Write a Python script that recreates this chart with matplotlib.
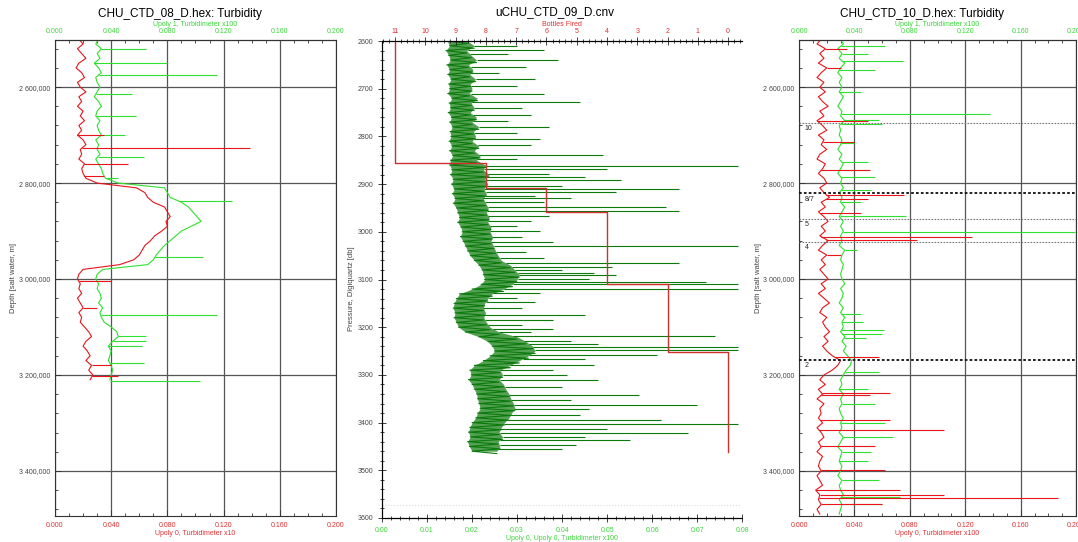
import numpy as np
import matplotlib
matplotlib.use('Agg')
import matplotlib.pyplot as plt
from matplotlib.ticker import MultipleLocator, FixedLocator

plt.rcParams['font.family'] = ['Liberation Sans', 'DejaVu Sans']

RED = '#e8141a'
GREEN = '#2fe02f'
DKGREEN = '#0b7a0b'
GRID = '#555555'
TXT_RED = '#e03030'
TXT_GREEN = '#3ad63a'

# ---------------- CHU_CTD_08 (depth profile, 10 m steps) ----------------
depth_08 = np.arange(2500, 3220, 10)
red_08 = [0.017, 0.020, 0.016, 0.019, 0.022, 0.017, 0.015, 0.019, 0.021, 0.016,
          0.018, 0.022, 0.017, 0.019, 0.016, 0.020, 0.018, 0.021, 0.017, 0.019,
          0.016, 0.020, 0.022, 0.018, 0.019, 0.017, 0.021, 0.019, 0.020, 0.022,
          0.030, 0.058, 0.064, 0.066, 0.070, 0.078, 0.080, 0.082, 0.079, 0.080,
          0.076, 0.071, 0.068, 0.064, 0.062, 0.060, 0.056, 0.046, 0.020, 0.017,
          0.016, 0.018, 0.017, 0.019, 0.016, 0.018, 0.020, 0.017, 0.019, 0.018, 0.021,
          0.024, 0.026, 0.022, 0.020, 0.023, 0.025, 0.022, 0.026, 0.024, 0.027, 0.025]
green_08 = [0.031, 0.029, 0.033, 0.030, 0.032, 0.028, 0.031, 0.033, 0.029, 0.030,
            0.032, 0.030, 0.028, 0.031, 0.033, 0.030, 0.029, 0.032, 0.030, 0.031,
            0.033, 0.029, 0.031, 0.030, 0.032, 0.029, 0.031, 0.033, 0.034, 0.036,
            0.045, 0.078, 0.080, 0.082, 0.090, 0.095, 0.098, 0.101, 0.104, 0.097,
            0.090, 0.086, 0.082, 0.078, 0.075, 0.072, 0.070, 0.066, 0.034, 0.030,
            0.029, 0.031, 0.030, 0.032, 0.033, 0.031, 0.034, 0.032, 0.033, 0.035, 0.040,
            0.044, 0.045, 0.041, 0.038, 0.040, 0.039, 0.038, 0.040, 0.041, 0.040, 0.039]
red_spk_08_d = [2700, 2727, 2760, 2785, 3005, 3060, 3180, 3203]
red_spk_08_v = [0.035, 0.139, 0.052, 0.035, 0.040, 0.030, 0.040, 0.045]
green_spk_08_d = [2520, 2550, 2575, 2615, 2660, 2700, 2745, 2790, 2837, 2955,
                  3076, 3118, 3130, 3140, 3175, 3213]
green_spk_08_v = [0.065, 0.080, 0.115, 0.055, 0.058, 0.050, 0.063, 0.045, 0.126, 0.105,
                  0.115, 0.065, 0.065, 0.062, 0.063, 0.103]

# ---------------- uCHU_CTD_09 (pressure profile, 10 db steps, envelope) ----------------
pressure_09 = np.arange(2600, 3470, 10)
lo_09 = [0.0145, 0.0150, 0.0142, 0.0148, 0.0152, 0.0144, 0.0150, 0.0146, 0.0153, 0.0148,
         0.0150, 0.0146, 0.0155, 0.0149, 0.0152, 0.0147, 0.0154, 0.0150, 0.0156, 0.0151,
         0.0153, 0.0149, 0.0155, 0.0150, 0.0157, 0.0152,
         0.0150, 0.0155, 0.0152, 0.0158, 0.0154, 0.0160, 0.0156, 0.0162, 0.0158, 0.0165, 0.0168,
         0.0172, 0.0168, 0.0175, 0.0178, 0.0174, 0.0180, 0.0185, 0.0190, 0.0196, 0.0205,
         0.0215, 0.0222, 0.0225, 0.0228, 0.0220, 0.0200,
         0.0172, 0.0165, 0.0160, 0.0158, 0.0162, 0.0160, 0.0165, 0.0170, 0.0185,
         0.0215, 0.0235, 0.0245, 0.0250, 0.0240, 0.0225, 0.0205,
         0.0195, 0.0198, 0.0192, 0.0200, 0.0205, 0.0210, 0.0212,
         0.0215, 0.0218, 0.0212, 0.0208, 0.0200,
         0.0195, 0.0192, 0.0196, 0.0190, 0.0194, 0.0200]
hi_09 = [0.0190, 0.0205, 0.0188, 0.0198, 0.0210, 0.0192, 0.0202, 0.0195, 0.0208, 0.0196,
         0.0200, 0.0194, 0.0212, 0.0198, 0.0205, 0.0196, 0.0210, 0.0200, 0.0215, 0.0203,
         0.0208, 0.0200, 0.0215, 0.0205, 0.0218, 0.0210,
         0.0230, 0.0225, 0.0238, 0.0228, 0.0235, 0.0226, 0.0232, 0.0225, 0.0230, 0.0236, 0.0232,
         0.0238, 0.0235, 0.0242, 0.0240, 0.0245, 0.0242, 0.0248, 0.0252, 0.0258, 0.0265,
         0.0285, 0.0295, 0.0305, 0.0300, 0.0290, 0.0270,
         0.0245, 0.0235, 0.0228, 0.0225, 0.0230, 0.0226, 0.0232, 0.0240, 0.0260,
         0.0300, 0.0320, 0.0335, 0.0340, 0.0325, 0.0305, 0.0285,
         0.0262, 0.0268, 0.0260, 0.0270, 0.0275, 0.0282, 0.0286,
         0.0292, 0.0295, 0.0288, 0.0282, 0.0272,
         0.0265, 0.0260, 0.0268, 0.0258, 0.0262, 0.0255]
spk_09_p = [2610, 2618, 2628, 2640, 2655, 2668, 2680, 2695, 2712, 2728, 2740, 2755, 2768, 2780, 2792,
            2805, 2819, 2838, 2848, 2861, 2868, 2878, 2885, 2892, 2903, 2911, 2917, 2924, 2930, 2938,
            2948, 2957, 2967, 2977, 2988, 2998, 3010, 3022, 3030, 3042, 3055, 3065, 3074, 3081, 3086,
            3091, 3098, 3106, 3110, 3119, 3129, 3138, 3147, 3160, 3175, 3185, 3195, 3203, 3210, 3218,
            3228, 3235, 3241, 3248, 3259, 3266, 3280, 3290, 3300, 3311, 3325, 3342, 3352, 3363, 3372,
            3384, 3394, 3403, 3414, 3422, 3430, 3437, 3448, 3455]
spk_09_v = [0.030, 0.036, 0.028, 0.039, 0.032, 0.026, 0.034, 0.030, 0.036, 0.044, 0.031, 0.033, 0.028, 0.037, 0.030,
            0.035, 0.033, 0.049, 0.030, 0.079, 0.050, 0.037, 0.045, 0.053, 0.040, 0.066, 0.052, 0.034, 0.042, 0.036,
            0.063, 0.066, 0.037, 0.033, 0.030, 0.035, 0.031, 0.038, 0.079, 0.032, 0.036, 0.066, 0.051, 0.040, 0.047,
            0.052, 0.046, 0.072, 0.079, 0.079, 0.035, 0.030, 0.034, 0.031, 0.045, 0.038, 0.031, 0.038, 0.033, 0.074,
            0.042, 0.048, 0.079, 0.079, 0.061, 0.045, 0.047, 0.038, 0.041, 0.048, 0.040, 0.057, 0.042, 0.070, 0.046,
            0.044, 0.062, 0.079, 0.050, 0.068, 0.045, 0.055, 0.043, 0.040]
# bottles fired step line
bottle_p = [2590, 2856, 2908, 2958, 3109, 3252, 3462]
bottle_n = [11, 8, 6, 4, 2, 0]

# ---------------- CHU_CTD_10 (depth profile, 10 m steps) ----------------
depth_10 = np.arange(2500, 3500, 10)
red_10 = [0.016, 0.013, 0.019, 0.015, 0.018, 0.014, 0.020, 0.016, 0.013, 0.018,
          0.015, 0.019, 0.014, 0.017, 0.021, 0.015, 0.018, 0.013, 0.017, 0.020,
          0.014, 0.018, 0.016, 0.020, 0.015, 0.013, 0.019, 0.017, 0.014, 0.018,
          0.020, 0.015, 0.018, 0.022, 0.016, 0.019, 0.014, 0.018, 0.021, 0.016,
          0.019, 0.015, 0.021, 0.017, 0.014, 0.020, 0.016, 0.019, 0.015, 0.018,
          0.021, 0.016, 0.019, 0.014, 0.018, 0.022, 0.017, 0.015, 0.020, 0.017,
          0.019, 0.022, 0.018, 0.021, 0.017, 0.020, 0.024, 0.030, 0.028, 0.024,
          0.018, 0.015, 0.019, 0.014, 0.017, 0.013, 0.018, 0.015, 0.016, 0.014,
          0.017, 0.013, 0.016, 0.018, 0.014, 0.016, 0.013, 0.017, 0.015, 0.014,
          0.016, 0.013, 0.015, 0.017, 0.012, 0.015, 0.014, 0.016, 0.013, 0.015]
green_10 = [0.030, 0.032, 0.028, 0.031, 0.029, 0.033, 0.030, 0.028, 0.031, 0.029,
            0.031, 0.029, 0.032, 0.030, 0.028, 0.031, 0.030, 0.033, 0.029, 0.030,
            0.029, 0.031, 0.030, 0.028, 0.031, 0.029, 0.032, 0.030, 0.028, 0.031,
            0.030, 0.032, 0.029, 0.031, 0.030, 0.033, 0.031, 0.029, 0.032, 0.030,
            0.032, 0.030, 0.031, 0.029, 0.033, 0.031, 0.030, 0.032, 0.031, 0.030,
            0.031, 0.033, 0.030, 0.032, 0.031, 0.029, 0.032, 0.030, 0.033, 0.031,
            0.032, 0.030, 0.033, 0.031, 0.034, 0.032, 0.035, 0.038, 0.037, 0.034,
            0.032, 0.030, 0.031, 0.029, 0.032, 0.030, 0.031, 0.029, 0.030, 0.032,
            0.030, 0.031, 0.029, 0.032, 0.030, 0.028, 0.031, 0.030, 0.029, 0.031,
            0.030, 0.028, 0.031, 0.029, 0.030, 0.032, 0.029, 0.031, 0.030, 0.029]
red_spk_10_d = [2520, 2560, 2670, 2714, 2773, 2824, 2834, 2862, 2912, 2918, 2950,
                3163, 3238, 3242, 3294, 3315, 3348, 3398, 3440, 3450, 3456, 3470]
red_spk_10_v = [0.035, 0.030, 0.050, 0.040, 0.051, 0.076, 0.050, 0.045, 0.125, 0.085, 0.030,
                0.058, 0.066, 0.051, 0.066, 0.105, 0.055, 0.062, 0.073, 0.105, 0.187, 0.060]
green_spk_10_d = [2515, 2530, 2545, 2565, 2610, 2655, 2669, 2677, 2717, 2756, 2773, 2787,
                  2815, 2840, 2868, 2901, 2940, 3072, 3090, 3107, 3114, 3124, 3163, 3194,
                  3230, 3260, 3300, 3329, 3360, 3380, 3420, 3440, 3455, 3470]
green_spk_10_v = [0.062, 0.050, 0.075, 0.055, 0.045, 0.138, 0.058, 0.060, 0.040, 0.050, 0.048, 0.055,
                  0.052, 0.045, 0.077, 0.199, 0.042, 0.045, 0.046, 0.061, 0.060, 0.048, 0.045, 0.058,
                  0.050, 0.055, 0.062, 0.068, 0.052, 0.050, 0.058, 0.048, 0.073, 0.060]
bottle_d_10 = [2675, 2821, 2875, 2923, 3169]
bottle_lbl_10 = ['10', '8/7', '5', '4', '2']
bottle_bold_10 = [False, True, False, False, True]

depth_ticks = [2600, 2800, 3000, 3200, 3400]
depth_labels = ['2 600,000', '2 800,000', '3 000,000', '3 200,000', '3 400,000']


def profile_axes(ax, top_label, bottom_label):
    ax.set_xlim(0, 0.2)
    ax.set_ylim(3494, 2502)
    ax.xaxis.set_major_locator(MultipleLocator(0.04))
    ax.xaxis.set_minor_locator(MultipleLocator(0.01))
    ax.xaxis.set_major_formatter('{x:.3f}')
    ax.yaxis.set_major_locator(FixedLocator(depth_ticks))
    ax.yaxis.set_minor_locator(MultipleLocator(40))
    ax.set_yticklabels(depth_labels)
    ax.tick_params(which='both', direction='in', labelsize=5, width=0.6, color='#333333')
    ax.tick_params(which='major', length=4)
    ax.tick_params(which='minor', length=2)
    ax.tick_params(axis='x', labelcolor=TXT_RED, pad=4)
    ax.tick_params(axis='y', labelcolor='#444444')
    ax.grid(which='major', color=GRID, lw=0.9)
    ax.set_xlabel(bottom_label, color=TXT_RED, fontsize=5, labelpad=1)
    ax.set_ylabel('Depth [salt water, m]', fontsize=5.5, color='#444444')
    ax.yaxis.set_label_coords(-0.135, 0.5)
    sec = ax.secondary_xaxis('top')
    sec.xaxis.set_major_locator(MultipleLocator(0.04))
    sec.xaxis.set_minor_locator(MultipleLocator(0.01))
    sec.xaxis.set_major_formatter('{x:.3f}')
    sec.tick_params(which='both', direction='in', labelsize=5, labelcolor=TXT_GREEN,
                    width=0.6, color='#333333', pad=4)
    sec.tick_params(which='major', length=4)
    sec.tick_params(which='minor', length=2)
    sec.set_xlabel(top_label, color=TXT_GREEN, fontsize=5, labelpad=1)
    for s in ax.spines.values():
        s.set_color('#333333')
        s.set_linewidth(0.8)


def draw_trace(ax, depth, base, spk_d, spk_v, color):
    ax.plot(base, depth, color=color, lw=0.8)
    ax.hlines(spk_d, np.interp(spk_d, depth, base), spk_v, colors=color, lw=0.8)


fig = plt.figure(figsize=(10.78, 5.42), dpi=100)
ax1 = fig.add_axes([0.051, 0.048, 0.2607, 0.878])
ax2 = fig.add_axes([0.3544, 0.0443, 0.334, 0.880])
ax3 = fig.add_axes([0.7412, 0.048, 0.257, 0.878])

# panel 1
draw_trace(ax1, depth_08, green_08, green_spk_08_d, green_spk_08_v, GREEN)
draw_trace(ax1, depth_08, red_08, red_spk_08_d, red_spk_08_v, RED)
profile_axes(ax1, 'Upoly 1, Turbidimeter x100', 'Upoly 0, Turbidimeter x10')

# panel 3
draw_trace(ax3, depth_10, green_10, green_spk_10_d, green_spk_10_v, GREEN)
draw_trace(ax3, depth_10, red_10, red_spk_10_d, red_spk_10_v, RED)
profile_axes(ax3, 'Upoly 1, Turbidimeter x100', 'Upoly 0, Turbidimeter x100')
for d, lbl, bold in zip(bottle_d_10, bottle_lbl_10, bottle_bold_10):
    if bold:
        ax3.axhline(d, color='#111111', ls=(0, (1.5, 1.2)), lw=1.3, zorder=3)
    else:
        ax3.axhline(d, color='#777777', ls=(0, (1.5, 1.2)), lw=0.8, zorder=3)
    ax3.text(0.004, d + 5, lbl, fontsize=5, va='top', ha='left', color='#222222')

# panel 2
p_zig = np.column_stack([pressure_09, pressure_09 + 5]).ravel()
v_zig = np.column_stack([lo_09, hi_09]).ravel()
ax2.fill_betweenx(pressure_09, lo_09, hi_09, color=DKGREEN, alpha=0.7, lw=0)
ax2.plot(v_zig, p_zig, color=DKGREEN, lw=0.8)
ax2.hlines(spk_09_p, np.interp(spk_09_p, pressure_09, hi_09), spk_09_v, colors=DKGREEN, lw=0.8)
ax2.axhline(3573, color='#dddddd', ls=':', lw=0.8)
ax2.set_xlim(0, 0.08)
ax2.set_ylim(3600, 2600)
ax2.xaxis.set_major_locator(MultipleLocator(0.01))
ax2.xaxis.set_minor_locator(MultipleLocator(0.002))
ax2.xaxis.set_major_formatter('{x:.2f}')
ax2.yaxis.set_major_locator(MultipleLocator(100))
ax2.yaxis.set_minor_locator(MultipleLocator(20))
ax2.tick_params(which='both', direction='inout', labelsize=5, width=0.6, color='#222222')
ax2.tick_params(which='major', length=6)
ax2.tick_params(which='minor', length=3)
ax2.tick_params(axis='x', labelcolor=TXT_GREEN)
ax2.tick_params(axis='y', labelcolor='#444444')
ax2.set_xlabel('Upoly 0, Upoly 0, Turbidimeter x100', color=TXT_GREEN, fontsize=5, labelpad=1)
ax2.set_ylabel('Pressure, Digiquartz [db]', fontsize=5.5, color='#444444')
ax2.yaxis.set_label_coords(-0.075, 0.48)
ax2.spines['right'].set_visible(False)

twin = ax2.twiny()
twin.set_xlim(11.43, -0.46)
step_n = np.repeat(bottle_n, 2)
step_p = np.repeat(bottle_p, 2)[1:-1]
twin.plot(step_n, step_p, color='#d03030', lw=1.0)
twin.xaxis.set_major_locator(MultipleLocator(1))
twin.xaxis.set_minor_locator(MultipleLocator(0.2))
twin.xaxis.set_major_formatter('{x:.0f}')
twin.tick_params(which='both', direction='inout', labelsize=5, labelcolor=TXT_RED,
                 width=0.6, color='#222222', pad=1)
twin.tick_params(which='major', length=6)
twin.tick_params(which='minor', length=3)
twin.set_xlabel('Bottles Fired', color=TXT_RED, fontsize=5, labelpad=2)
twin.spines['right'].set_visible(False)

fig.text(180 / 1078, 1 - 14 / 542, 'CHU_CTD_08_D.hex: Turbidity', ha='center', va='center', fontsize=8.5)
fig.text(555 / 1078, 1 - 12 / 542, 'uCHU_CTD_09_D.cnv', ha='center', va='center', fontsize=8.5)
fig.text(922 / 1078, 1 - 14 / 542, 'CHU_CTD_10_D.hex: Turbidity', ha='center', va='center', fontsize=8.5)

fig.savefig('out.png', dpi=100)
